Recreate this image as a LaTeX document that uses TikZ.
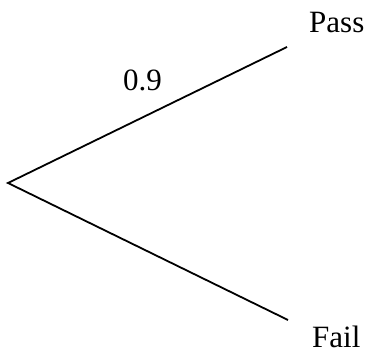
\documentclass[tikz,border=0pt]{standalone}
\usepackage{fontspec}
\setmainfont{Liberation Serif}
\begin{document}
\begin{tikzpicture}[x=1pt,y=1pt,
  branch/.style={line width=1.8pt},
  lbl/.style={inner sep=0pt,anchor=base west,text depth=0pt,font=\fontsize{31}{36}\selectfont}]
\useasboundingbox (0,0) rectangle (366,352);
\coordinate (root) at (8,169);
\coordinate (passend) at (287,305);
\coordinate (failend) at (288,32);
\draw[branch] (passend) -- (root) -- (failend);
\node[lbl] (pass) at (309,319.5) {Pass};
\node[lbl] (fail) at (312,4.5) {Fail};
\node[lbl] (prob) at (123,261) {0.9};
\end{tikzpicture}
\end{document}
